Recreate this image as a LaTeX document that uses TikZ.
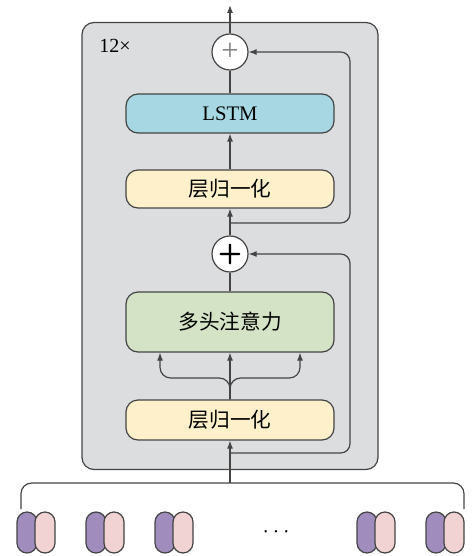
\documentclass[tikz,border=0pt]{standalone}
\usepackage{fontspec}
\setmainfont{Liberation Serif}
\newfontfamily\cjk{Noto Sans CJK SC}
\usetikzlibrary{arrows.meta}

\definecolor{boxgray}{HTML}{DCDDDF}
\definecolor{linegray}{HTML}{444444}
\definecolor{lstmblue}{HTML}{A7D7E2}
\definecolor{normyellow}{HTML}{FDF0CB}
\definecolor{mhagreen}{HTML}{D4E3C6}
\definecolor{tokpurple}{HTML}{A08DBD}
\definecolor{tokpink}{HTML}{F1D3D3}

\begin{document}
\begin{tikzpicture}[x=0.75pt, y=-0.75pt, line width=0.9pt, draw=linegray,
	>={Latex[length=6pt,width=4.5pt]},
	blk/.style={draw, rounded corners=9pt, minimum width=156pt, inner sep=0pt,
		font=\fontsize{15.5}{18}\selectfont},
	addc/.style={draw, circle, fill=white, minimum size=27pt, inner sep=0pt},
	pill/.style={draw, rounded corners=7.5pt, minimum width=15pt,
		minimum height=30.75pt, inner sep=0pt}]
	\useasboundingbox (0, 0) rectangle (471, 556);
	% layer box
	\node[draw, fill=boxgray, rounded corners=9pt, minimum width=222pt,
		minimum height=335.25pt, inner sep=0pt] (layer) at (230, 246) {};
	\node[font=\fontsize{15}{18}\selectfont] (rep) at (115, 46) {12×};
	% blocks
	\node[addc, font=\fontsize{23}{24}\selectfont\color{gray}] (addA) at (230, 52) {+};
	\node[blk, fill=lstmblue, minimum height=29.25pt] (lstm) at (230, 113.5) {LSTM};
	\node[blk, fill=normyellow, minimum height=28.5pt] (normA) at (230, 189) {\cjk 层归一化};
	\node[addc, font=\fontsize{21}{22}\selectfont\sffamily\bfseries] (addB) at (230, 254) {+};
	\node[blk, fill=mhagreen, minimum height=45pt] (mha) at (230, 322) {\cjk 多头注意力};
	\node[blk, fill=normyellow, minimum height=30pt] (normB) at (230, 420) {\cjk 层归一化};
	\coordinate (out) at (230, 5);
	\coordinate (resA) at (230, 223);
	\coordinate (resB) at (230, 453);
	\coordinate (brC) at (230, 483);
	% connectors
	\draw[->] (addA.north) -- (out);
	\draw (lstm.north) -- (addA.south);
	\draw[->] (normA.north) -- (lstm.south);
	\draw[->] (addB.north) -- (normA.south);
	\draw[->, rounded corners=7pt] (resA) -- (350, 223) |- (addA.east);
	\draw (mha.north) -- (addB.south);
	\draw[->] (normB.north) -- (mha.south);
	\draw[->, rounded corners=8pt] (normB.north) -- (230, 378) -| ([xshift=-52.5pt]mha.south);
	\draw[->, rounded corners=8pt] (normB.north) -- (230, 378) -| ([xshift=52.5pt]mha.south);
	\draw[->, rounded corners=7pt] (resB) -- (350, 453) |- (addB.east);
	\draw[->] (brC) -- (normB.south);
	% input tokens
	\draw[rounded corners=8pt] (21, 509) |- (464, 483) -- (464, 509);
	\foreach \i/\x in {1/36, 2/105, 3/174, 4/376, 5/445} {
		\node[pill, fill=tokpurple] (tok\i-a) at (\x-9, 532.5) {};
		\node[pill, fill=tokpink] (tok\i-b) at (\x+9, 532.5) {};
	}
	\node[font=\fontsize{17}{18}\selectfont] (dots) at (276, 532) {$\cdots$};
\end{tikzpicture}
\end{document}
